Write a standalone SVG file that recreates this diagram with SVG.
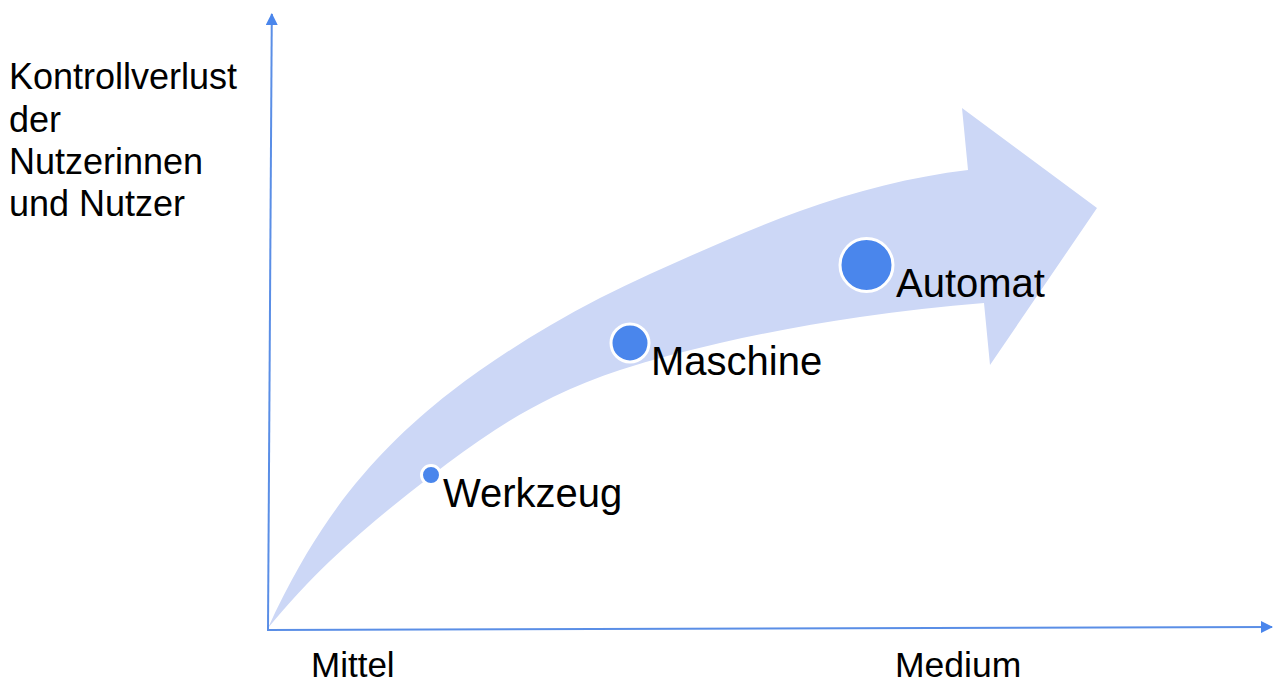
<svg xmlns="http://www.w3.org/2000/svg" width="1274" height="684" viewBox="0 0 1274 684">
<defs>
<style>
.lbl{font-family:"Liberation Sans",Arial,Helvetica,sans-serif;fill:#000;}
.axis{stroke:#5a8ee6;stroke-width:2;fill:none;}
.dot{fill:#4a86ec;stroke:#ffffff;stroke-width:3;}
</style>
<marker id="ah" viewBox="0 0 12 12" refX="11" refY="6" markerWidth="12" markerHeight="12" markerUnits="userSpaceOnUse" orient="auto">
<path d="M0,0 L12,6 L0,12 Z" fill="#4a86ec"/>
</marker>
</defs>
<rect width="1274" height="684" fill="#ffffff"/>
<g id="big-arrow">
<path fill="#ccd7f6" d="M268,628 C288.67,582.5 309.33,547.6 330,517.6 C350,488.6 370,466 390,445.6 C410,425.2 430,407.9 450,392.5 C483.33,366.8 516.67,345 550,325.5 C583.33,306 616.67,289 650,274 C700,251.5 750,229 800,211 C856,190.8 912,176.7 968,170 L962,108 L1097,208 L990,365 L984,303 C942.67,306.3 901.33,310.8 860,317 C813.33,324 766.67,332.3 720,343 C686.67,350.7 653.33,359 620,370 C597.67,377.4 575.33,386.3 553,397 C533.67,406.3 514.33,417.6 495,430 C473.67,443.7 452.33,459.6 431,476 C397.33,501.9 363.67,529 330,561 C309.33,580.6 288.67,603.2 268,628 Z"/>
</g>
<g id="connectors">
<line class="axis" x1="268" y1="630" x2="271.8" y2="14" marker-end="url(#ah)"/>
<line class="axis" x1="267" y1="630" x2="1272" y2="627" marker-end="url(#ah)"/>
</g>
<g id="y-label">
<text class="lbl" font-size="36" x="9" y="89">Kontrollverlust</text>
<text class="lbl" font-size="36" x="9" y="131.5">der</text>
<text class="lbl" font-size="36" x="9" y="174">Nutzerinnen</text>
<text class="lbl" font-size="36" x="9" y="216">und Nutzer</text>
</g>
<g id="x-label-mittel">
<text class="lbl" font-size="35" x="311" y="677">Mittel</text>
</g>
<g id="x-label-medium">
<text class="lbl" font-size="35.5" x="895" y="677">Medium</text>
</g>
<g id="node-werkzeug">
<circle class="dot" cx="431" cy="475" r="9.5"/>
<text class="lbl" font-size="40" x="443" y="507">Werkzeug</text>
</g>
<g id="node-maschine">
<circle class="dot" cx="630" cy="343" r="19"/>
<text class="lbl" font-size="40" x="651" y="375">Maschine</text>
</g>
<g id="node-automat">
<circle class="dot" cx="866.5" cy="265" r="26.5"/>
<text class="lbl" font-size="40" x="896" y="297">Automat</text>
</g>
</svg>
